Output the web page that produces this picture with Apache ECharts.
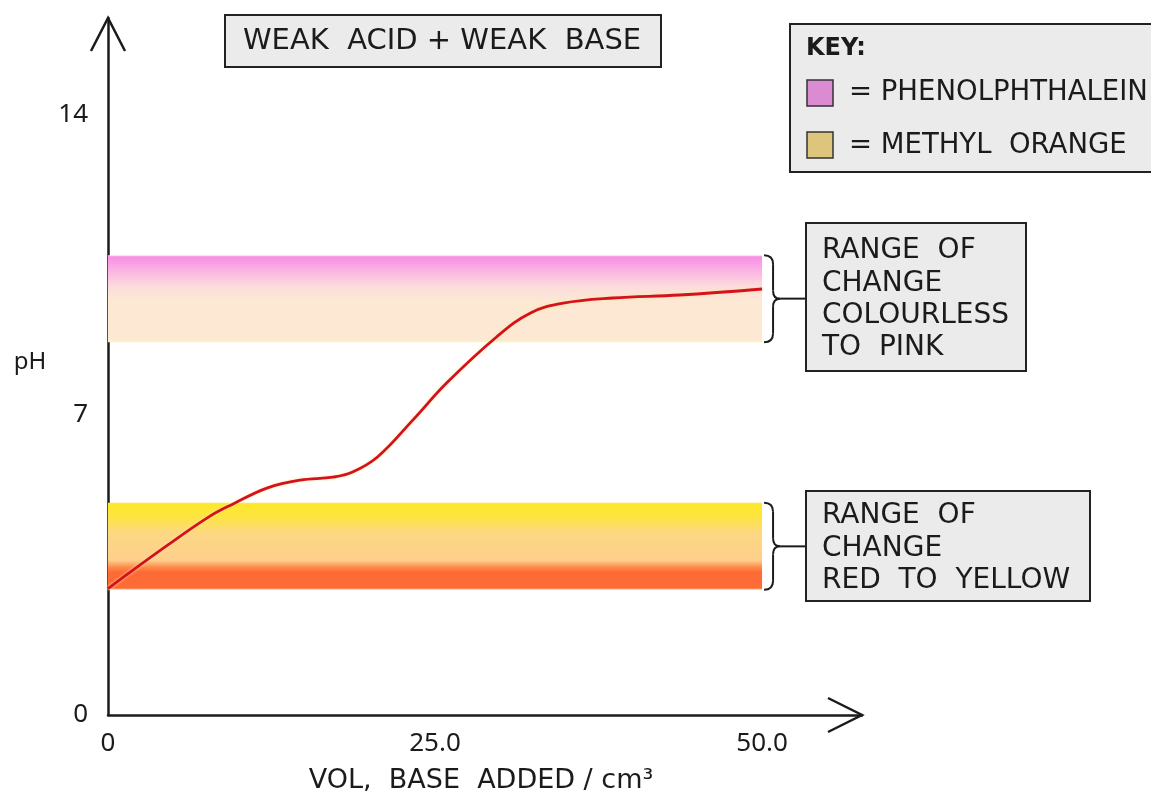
<!DOCTYPE html>
<html>
<head>
<meta charset="utf-8">
<script src="https://cdn.jsdelivr.net/npm/echarts@6/dist/echarts.min.js"></script>
<style>
html,body{margin:0;padding:0;background:#fff;}
#chart{width:1151px;height:797px;}
</style>
</head>
<body>
<div id="chart"></div>
<script>
// ---- data ----
const volumes = [0, 4.5, 7.8, 9.6, 12.2, 14.7, 17.2, 18.7, 20.6, 23.3, 25.9, 29.7, 32.3, 34.8, 38.6, 43.7, 50];
const phValues = [2.95, 3.95, 4.64, 4.93, 5.3, 5.48, 5.55, 5.67, 6.02, 6.88, 7.75, 8.82, 9.38, 9.61, 9.73, 9.8, 9.94];
const xTicks = [0, 25, 50];
const xTickLabels = ['0', '25.0', '50.0'];
const yTicks = [0, 7, 14];
const yTickLabels = ['0', '7', '14'];
const phenolRange = [8.7, 10.73];   // pH band, phenolphthalein
const methylRange = [2.92, 4.95];   // pH band, methyl orange
const bandVolume = [0, 50];
const titleText = 'WEAK  ACID + WEAK  BASE';
const keyTitle = 'KEY:';
const keyLabels = ['= PHENOLPHTHALEIN', '= METHYL  ORANGE'];
const phenolNote = ['RANGE  OF', 'CHANGE', 'COLOURLESS', 'TO  PINK'];
const methylNote = ['RANGE  OF', 'CHANGE', 'RED  TO  YELLOW'];
const xName = 'VOL,  BASE  ADDED / cm³';
const yName = 'pH';

const FONT = '"DejaVu Sans", "Noto Sans", sans-serif';
const INK = '#1b1b1b';

const pinkGrad = {
  type: 'linear', x: 0, y: 0, x2: 0, y2: 1,
  colorStops: [
    {offset: 0, color: '#fbf3c0'},
    {offset: 0.02, color: '#f88de8'},
    {offset: 0.14, color: '#faabe4'},
    {offset: 0.36, color: '#fcdcdc'},
    {offset: 0.52, color: '#fde8d4'},
    {offset: 0.97, color: '#fde9d3'},
    {offset: 1, color: '#fbf4c2'}
  ]
};
const yellowGrad = {
  type: 'linear', x: 0, y: 0, x2: 0, y2: 1,
  colorStops: [
    {offset: 0, color: '#fde92c'},
    {offset: 0.15, color: '#fde53e'},
    {offset: 0.35, color: '#fdd884'},
    {offset: 0.66, color: '#fdcf8c'},
    {offset: 0.74, color: '#fd8a4a'},
    {offset: 0.8, color: '#fd6a35'},
    {offset: 0.98, color: '#fd6b36'},
    {offset: 1, color: '#fbe7b0'}
  ]
};

const chart = echarts.init(document.getElementById('chart'), null, {renderer: 'canvas'});

const option = {
  backgroundColor: '#ffffff',
  animation: false,
  grid: {left: 108, top: 18, right: 289, bottom: 82, containLabel: false},
  xAxis: {
    type: 'value', min: 0, max: 57.64, interval: 25,
    axisLine: {show: true, lineStyle: {color: INK, width: 2.5}},
    axisTick: {show: false},
    splitLine: {show: false},
    axisLabel: {
      margin: 16, color: INK, fontSize: 26, fontFamily: '"Noto Sans", sans-serif',
      formatter: v => { const i = xTicks.indexOf(v); return i >= 0 ? xTickLabels[i] : ''; }
    }
  },
  yAxis: {
    type: 'value', min: 0, max: 16.263, interval: 7,
    axisLine: {show: true, lineStyle: {color: INK, width: 2.5}},
    axisTick: {show: false},
    splitLine: {show: false},
    axisLabel: {
      margin: 20, color: INK, fontSize: 26, fontFamily: '"Noto Sans", sans-serif',
      formatter: v => { const i = yTicks.indexOf(v); return i >= 0 ? yTickLabels[i] : ''; }
    }
  },
  series: [
    {
      type: 'line', z: 1, data: [], silent: true,
      markArea: {
        silent: true,
        data: [
          [{xAxis: bandVolume[0], yAxis: phenolRange[1], itemStyle: {color: pinkGrad}},
           {xAxis: bandVolume[1], yAxis: phenolRange[0]}],
          [{xAxis: bandVolume[0], yAxis: methylRange[1], itemStyle: {color: yellowGrad}},
           {xAxis: bandVolume[1], yAxis: methylRange[0]}]
        ]
      }
    },
    {
      type: 'line', z: 3,
      data: volumes.map((v, i) => [v, phValues[i]]),
      smooth: 0.4,
      showSymbol: false,
      symbol: 'none',
      lineStyle: {color: '#d5101f', width: 2.8, shadowColor: 'rgba(250,235,150,0.9)', shadowBlur: 3}
    }
  ]
};
chart.setOption(option);

function px(x, y) { return chart.convertToPixel({gridIndex: 0}, [x, y]); }

const LS = {stroke: INK, lineWidth: 2, fill: null};
function brace(xLeft, yTop, yBot) {
  const xm = xLeft + 9, xt = xLeft + 16, ym = (yTop + yBot) / 2;
  return [
    {type: 'bezierCurve', z: 5, shape: {x1: xLeft, y1: yTop, cpx1: xm, cpy1: yTop, x2: xm, y2: yTop + 9}, style: LS},
    {type: 'line', z: 5, shape: {x1: xm, y1: yTop + 9, x2: xm, y2: ym - 8}, style: LS},
    {type: 'bezierCurve', z: 5, shape: {x1: xm, y1: ym - 8, cpx1: xm, cpy1: ym, x2: xt, y2: ym}, style: LS},
    {type: 'bezierCurve', z: 5, shape: {x1: xt, y1: ym, cpx1: xm, cpy1: ym, x2: xm, y2: ym + 8}, style: LS},
    {type: 'line', z: 5, shape: {x1: xm, y1: ym + 8, x2: xm, y2: yBot - 9}, style: LS},
    {type: 'bezierCurve', z: 5, shape: {x1: xm, y1: yBot - 9, cpx1: xm, cpy1: yBot, x2: xLeft, y2: yBot}, style: LS},
    {type: 'line', z: 5, shape: {x1: xt, y1: ym, x2: 806, y2: ym}, style: LS}
  ];
}

function box(left, top, w, h) {
  return {type: 'rect', shape: {x: left, y: top, width: w, height: h},
    style: {fill: '#ebebeb', stroke: '#222', lineWidth: 2}, z: 10};
}
function txt(x, y, s, opts) {
  return {type: 'text', x: x, y: y, z: 11,
    style: Object.assign({text: s, fill: INK, font: '28px ' + FONT, verticalAlign: 'middle'}, opts || {})};
}

const yTop = px(0, 16.263);
const xEnd = px(57.64, 0);
const pinkTop = px(bandVolume[1], phenolRange[1]);
const pinkBot = px(bandVolume[1], phenolRange[0]);
const yelTop = px(bandVolume[1], methylRange[1]);
const yelBot = px(bandVolume[1], methylRange[0]);

let g = [];
// arrowheads
g.push({type: 'polyline', z: 5, shape: {points: [[yTop[0] - 17, yTop[1] + 33], [yTop[0], yTop[1]], [yTop[0] + 17, yTop[1] + 33]]},
  style: {stroke: INK, lineWidth: 2.5, fill: null}});
g.push({type: 'polyline', z: 5, shape: {points: [[xEnd[0] - 34, xEnd[1] - 17], [xEnd[0], xEnd[1]], [xEnd[0] - 34, xEnd[1] + 17]]},
  style: {stroke: INK, lineWidth: 2.5, fill: null}});

// title box
g.push(box(225, 15, 436, 52));
g.push(txt(442, 41, titleText, {align: 'center', font: '29px ' + FONT}));

// key box
g.push(box(790, 24, 380, 148));
g.push(txt(806, 49, keyTitle, {font: 'bold 24px ' + FONT}));
g.push({type: 'rect', z: 11, shape: {x: 807, y: 80, width: 26, height: 26}, style: {fill: '#da8bd1', stroke: '#333', lineWidth: 1.5}});
g.push({type: 'rect', z: 11, shape: {x: 807, y: 132, width: 26, height: 26}, style: {fill: '#ddc57c', stroke: '#333', lineWidth: 1.5}});
g.push(txt(849, 93, keyLabels[0], {font: '27.5px ' + FONT}));
g.push(txt(849, 146, keyLabels[1], {font: '27.5px ' + FONT}));

// braces and notes
const bx = pinkTop[0] + 2;
g = g.concat(brace(bx, pinkTop[1], pinkBot[1]));
g = g.concat(brace(bx, yelTop[1], yelBot[1]));

g.push(box(806, 223, 220, 148));
phenolNote.forEach((s, i) => g.push(txt(822, 251 + i * 32.3, s)));
g.push(box(806, 491, 284, 110));
methylNote.forEach((s, i) => g.push(txt(822, 516 + i * 32.3, s)));

// axis names
g.push(txt(30, 362, yName, {align: 'center', font: '24px "Noto Sans", sans-serif'}));
g.push(txt(481, 781, xName, {align: 'center', font: '27px ' + FONT}));

chart.setOption({graphic: {elements: g}});
</script>
</body>
</html>
